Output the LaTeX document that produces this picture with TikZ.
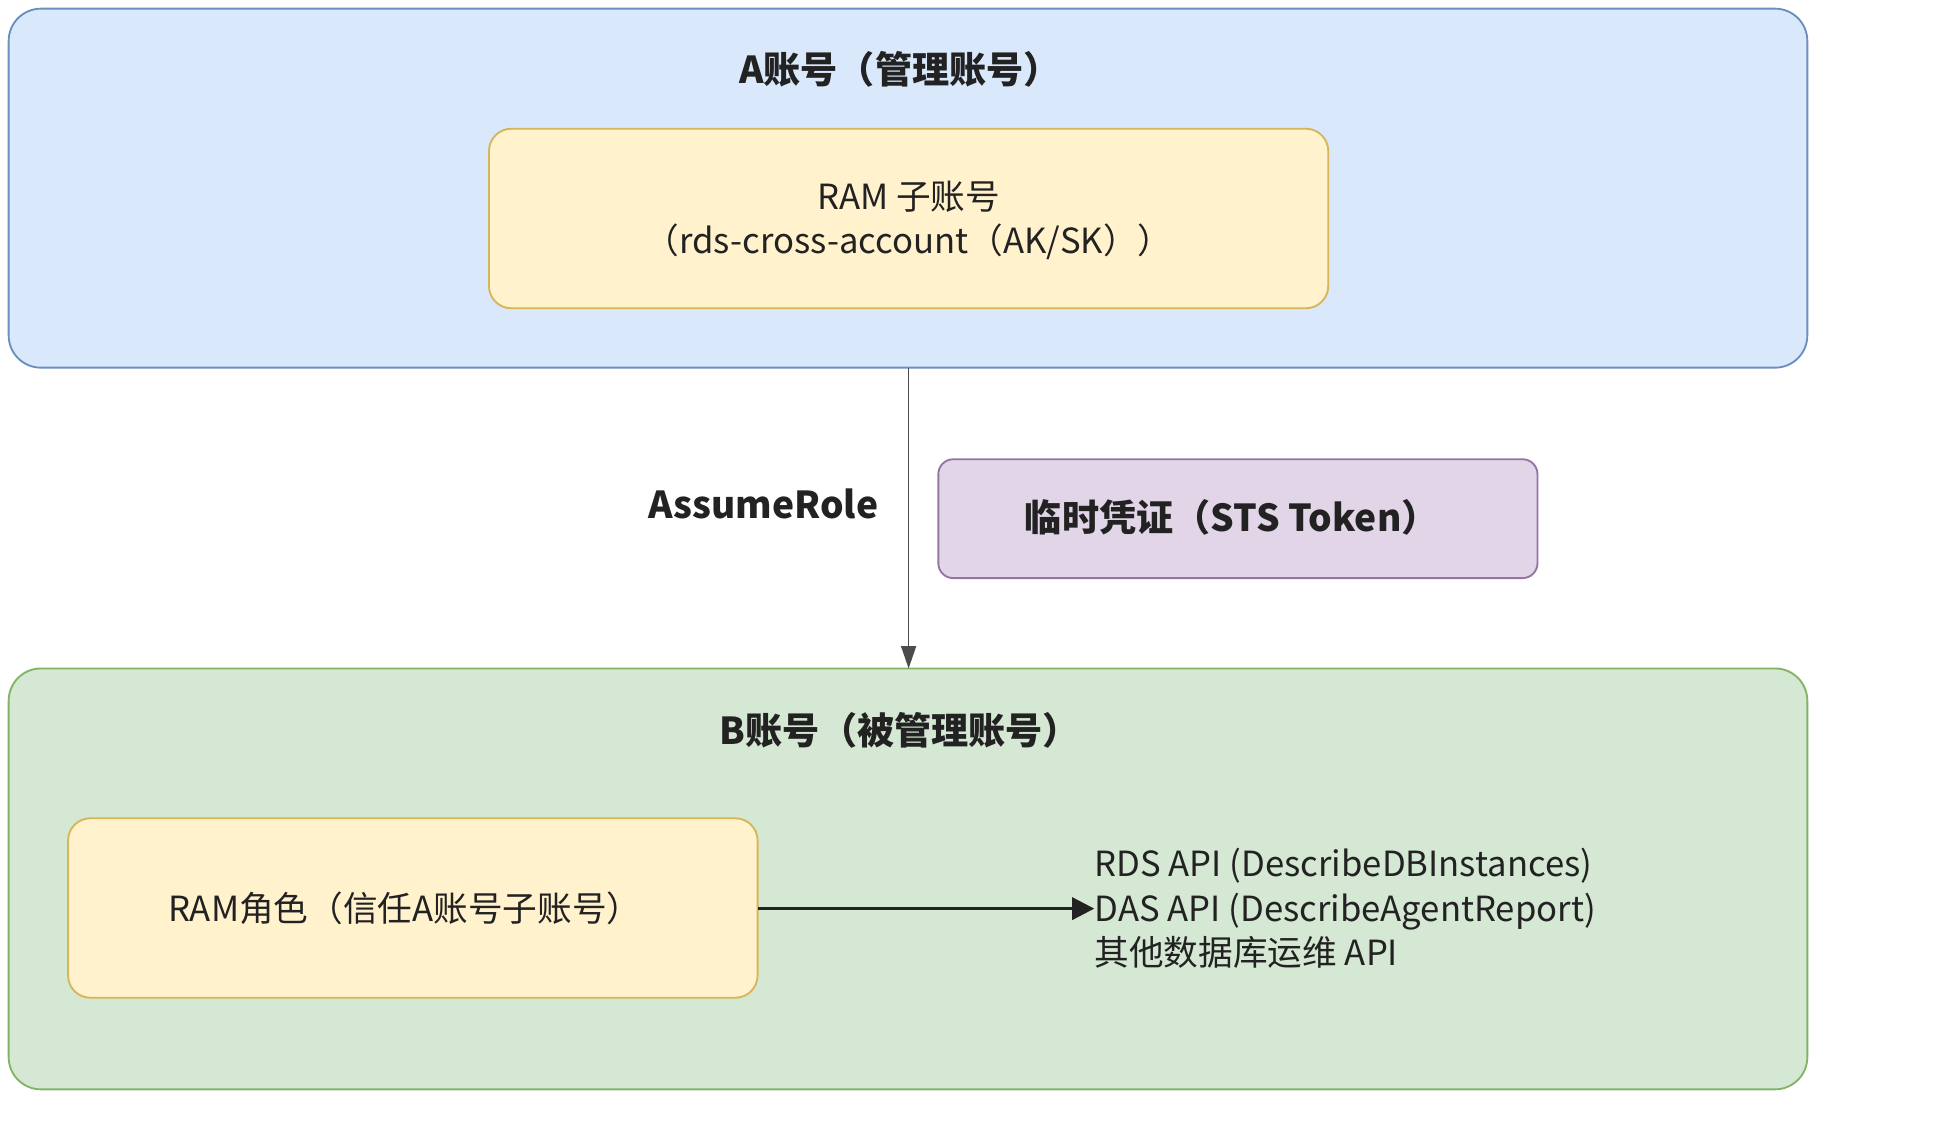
\documentclass[tikz,border=0pt]{standalone}
\usepackage{fontspec}
\setmainfont{Noto Sans CJK SC}
\usetikzlibrary{arrows.meta}
\definecolor{blueF}{HTML}{DAE8FC}\definecolor{blueD}{HTML}{6C8EBF}
\definecolor{yelF}{HTML}{FFF2CC}\definecolor{yelD}{HTML}{D6B656}
\definecolor{purF}{HTML}{E1D5E7}\definecolor{purD}{HTML}{9673A6}
\definecolor{grnF}{HTML}{D5E8D4}\definecolor{grnD}{HTML}{82B366}
\definecolor{txt}{HTML}{222222}
\begin{document}
\begin{tikzpicture}[x=1pt,y=-1pt,
 box/.style={draw, line width=1.5pt, rounded corners=18pt},
 t/.style={font=\fontsize{28}{36}\selectfont, text=txt, align=center},
 tb/.style={font=\fontsize{30}{36}\selectfont\bfseries, text=txt}]
\useasboundingbox (0,0) rectangle (1568,914);
\draw[box, fill=blueF, draw=blueD, rounded corners=26pt] (7,7) rectangle (1460,297);
\coordinate (atop) at (734,297);
\node[tb] (atitle) at (727,56) {A账号（管理账号）};
\draw[box, fill=yelF, draw=yelD] (395,104) rectangle (1073,249);
\node[t] (sub) at (734,178) {RAM 子账号\\（rds-cross-account（AK/SK））};
\draw[box, fill=purF, draw=purD, rounded corners=12pt] (758,371) rectangle (1242,467);
\node[tb] (sts) at (995,418) {临时凭证（STS Token）};
\node[tb, anchor=east] (ar) at (713,407) {AssumeRole};
\draw[box, fill=grnF, draw=grnD, rounded corners=26pt] (7,540) rectangle (1460,880);
\coordinate (btop) at (734,540);
\node[tb] (btitle) at (727,590) {B账号（被管理账号）};
\draw[box, fill=yelF, draw=yelD] (55,661) rectangle (612,806);
\coordinate (role) at (612,734);
\node[t] (rt) at (327,734) {RAM角色（信任A账号子账号）};
\node[t, anchor=west, align=left, inner sep=0pt] (api) at (884,734) {RDS API (DescribeDBInstances)\\DAS API (DescribeAgentReport)\\其他数据库运维 API};
\draw[line width=1.4pt, draw=black!70, -{Triangle[length=18pt,width=12pt]}] (atop) -- (btop);
\draw[line width=2.5pt, draw=txt, -{Triangle[length=18pt,width=18pt]}] (role) -- (api.west);
\end{tikzpicture}
\end{document}
